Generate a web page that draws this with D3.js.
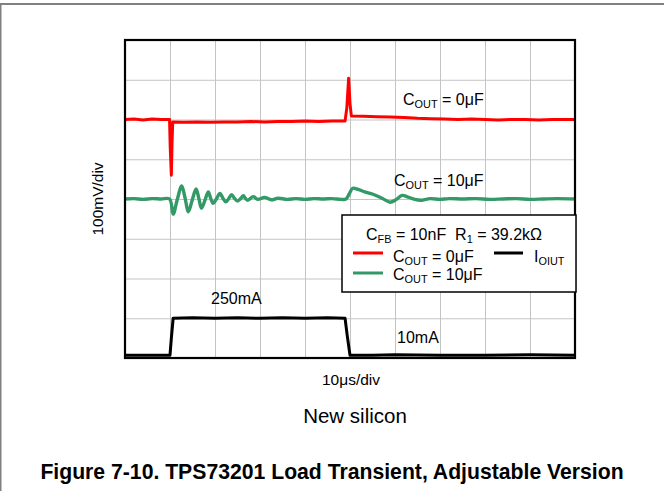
<!DOCTYPE html>
<html>
<head>
<meta charset="utf-8">
<script src="https://cdn.jsdelivr.net/npm/d3@7"></script>
<style>
  html, body { margin: 0; padding: 0; background: #fff; }
  svg { display: block; }
  text { font-family: "Liberation Sans", Arial, Helvetica, sans-serif; fill: #000; }
</style>
</head>
<body>
<svg id="chart" width="664" height="491"></svg>
<script>
// ---------------- DATA (time in µs, screen value in mV, 100 mV/div) ----------------
const xGridValues = [0, 10, 20, 30, 40, 50, 60, 70, 80, 90, 100];
const yGridValues = [0, 100, 200, 300, 400, 500, 600, 700, 800];

// V_OUT, C_OUT = 0 µF (red)
const redTrace = [
  [0, 600], [2, 601], [4, 599], [6, 601], [8, 600], [9.9, 600],
  [10.05, 530], [10.3, 460], [10.45, 540], [10.6, 594],
  [13, 593], [16, 594], [19, 593], [22, 594], [25, 594], [28, 595], [31, 594],
  [34, 595], [37, 595], [40, 596], [43, 595], [46, 596], [48.9, 596],
  [49.3, 630], [49.7, 704], [50.0, 640], [50.3, 609],
  [53, 608], [56, 607], [59, 606], [62, 605], [65, 603], [68, 602], [71, 601],
  [74, 600], [77, 601], [80, 600], [83, 599], [86, 600], [89, 600], [92, 599],
  [95, 600], [98, 600], [100, 600]
];

// V_OUT, C_OUT = 10 µF (green)
const greenTrace = [
  [0, 400], [2, 401], [4, 399], [6, 401], [8, 400], [9.9, 400],
  [10.7, 362], [11.6, 398], [12.6, 433], [13.3, 405], [14.1, 368], [14.9, 396],
  [15.8, 425], [16.4, 402], [17.0, 377], [17.8, 398], [18.5, 418], [19.0, 403],
  [19.6, 389], [20.3, 400], [21.1, 414], [21.8, 401], [22.4, 393], [23.0, 400],
  [23.7, 411], [24.3, 402], [25.0, 395], [25.7, 401], [26.3, 408], [26.8, 401],
  [27.3, 397], [28.5, 406], [29.5, 399], [31, 404], [32.5, 398], [34, 402],
  [36, 399], [38, 401], [40, 399], [42, 401], [44, 400], [46, 401], [48, 399],
  [49.1, 400], [49.8, 412], [50.6, 427], [51.8, 424], [53.3, 418], [55.1, 412],
  [57.1, 402], [58.9, 392], [60.2, 398], [61.6, 409], [62.9, 405], [64.4, 399],
  [66, 397], [67.8, 401], [70, 399], [72, 401], [75, 400], [78, 401], [81, 399],
  [84, 400], [87, 401], [90, 399], [93, 400], [96, 401], [100, 400]
];

// I_OUT (black)
const blackTrace = [
  [0, 7], [5, 7], [10.0, 7], [10.3, 50], [10.7, 100], [15, 101], [20, 100],
  [25, 101], [30, 100], [35, 101], [40, 100], [45, 101], [48.9, 100],
  [49.4, 55], [50.0, 7], [55, 7], [60, 8], [70, 7], [80, 7], [90, 8], [100, 7]
];

const traceColors = { red: "#ff0000", green: "#339966", black: "#000000" };

const titleText = "Figure 7-10. TPS73201 Load Transient, Adjustable Version";
const subtitleText = "New silicon";
const xLabelText = "10\u03BCs/div";
const yLabelText = "100mV/div";
const label250 = "250mA";
const label10 = "10mA";

// ---------------- DRAWING ----------------
const svg = d3.select("#chart");
const plot = { left: 125, right: 575, top: 40, bottom: 358 };

const x = d3.scaleLinear().domain([0, 100]).range([plot.left, plot.right]);
const y = d3.scaleLinear().domain([0, 800]).range([plot.bottom, plot.top]);

// outer page frame
svg.append("rect").attr("x", 0).attr("y", 3).attr("width", 664).attr("height", 2).attr("fill", "#808080");
svg.append("rect").attr("x", 0).attr("y", 3).attr("width", 1.5).attr("height", 488).attr("fill", "#808080");

// gridlines through axes
const gx = svg.append("g")
  .attr("transform", `translate(0,${plot.bottom})`)
  .call(d3.axisBottom(x).tickValues(xGridValues).tickSize(-(plot.bottom - plot.top)).tickFormat(""));
const gy = svg.append("g")
  .attr("transform", `translate(${plot.left},0)`)
  .call(d3.axisLeft(y).tickValues(yGridValues).tickSize(-(plot.right - plot.left)).tickFormat(""));
[gx, gy].forEach(g => {
  g.select(".domain").remove();
  g.selectAll(".tick line").attr("stroke", "#c4c4c4").attr("stroke-width", 1);
});

// traces
const lineSharp = d3.line().x(d => x(d[0])).y(d => y(d[1]));
const lineSmooth = d3.line().x(d => x(d[0])).y(d => y(d[1])).curve(d3.curveCatmullRom.alpha(0.5));
const traces = [
  { data: greenTrace, color: traceColors.green, w: 3.4, gen: lineSmooth },
  { data: redTrace, color: traceColors.red, w: 3, gen: lineSharp },
  { data: blackTrace, color: traceColors.black, w: 3, gen: lineSharp }
];
svg.append("g").selectAll("path").data(traces).join("path")
  .attr("d", d => d.gen(d.data))
  .attr("fill", "none")
  .attr("stroke", d => d.color)
  .attr("stroke-width", d => d.w)
  .attr("stroke-linejoin", "round");

// plot border
svg.append("rect")
  .attr("x", plot.left).attr("y", plot.top)
  .attr("width", plot.right - plot.left).attr("height", plot.bottom - plot.top)
  .attr("fill", "none").attr("stroke", "#000").attr("stroke-width", 2.2);

// helper: text with subscript
function subText(g, px, py, parts, size) {
  const t = g.append("text").attr("x", px).attr("y", py).attr("font-size", size)
    .attr("xml:space", "preserve").style("white-space", "pre");
  parts.forEach(p => {
    if (p.sub) {
      t.append("tspan").attr("font-size", size * 0.68).attr("dy", 3).text(p.t);
    } else {
      t.append("tspan").attr("dy", p.after ? -3 : 0).text(p.t);
    }
  });
  return t;
}

const fs = 16;
// in-plot annotations
subText(svg, 403, 105, [{ t: "C" }, { t: "OUT", sub: true }, { t: " = 0\u03BCF", after: true }], fs);
subText(svg, 394, 186, [{ t: "C" }, { t: "OUT", sub: true }, { t: " = 10\u03BCF", after: true }], fs);
svg.append("text").attr("x", 211).attr("y", 304).attr("font-size", fs).text(label250);
svg.append("text").attr("x", 397).attr("y", 343).attr("font-size", fs).text(label10);

// legend
const lg = svg.append("g");
lg.append("rect").attr("x", 342).attr("y", 215).attr("width", 234).attr("height", 77)
  .attr("fill", "#fff").attr("stroke", "#000").attr("stroke-width", 1.5);
subText(lg, 366, 240, [{ t: "C" }, { t: "FB", sub: true }, { t: " = 10nF\u00A0\u00A0R", after: true }, { t: "1", sub: true }, { t: " = 39.2k\u03A9", after: true }], fs);
lg.append("line").attr("x1", 353).attr("x2", 383).attr("y1", 253).attr("y2", 253).attr("stroke", traceColors.red).attr("stroke-width", 3);
subText(lg, 393, 262, [{ t: "C" }, { t: "OUT", sub: true }, { t: " = 0\u03BCF", after: true }], fs);
lg.append("line").attr("x1", 494).attr("x2", 523).attr("y1", 253).attr("y2", 253).attr("stroke", traceColors.black).attr("stroke-width", 3);
subText(lg, 534, 262, [{ t: "I" }, { t: "OIUT", sub: true }], fs);
lg.append("line").attr("x1", 353).attr("x2", 383).attr("y1", 273).attr("y2", 273).attr("stroke", traceColors.green).attr("stroke-width", 3);
subText(lg, 393, 280, [{ t: "C" }, { t: "OUT", sub: true }, { t: " = 10\u03BCF", after: true }], fs);

// axis labels
svg.append("text").attr("transform", "translate(103,199) rotate(-90)")
  .attr("text-anchor", "middle").attr("font-size", 15.5).text(yLabelText);
svg.append("text").attr("x", 351).attr("y", 385).attr("text-anchor", "middle").attr("font-size", 15.5).text(xLabelText);
svg.append("text").attr("x", 355).attr("y", 423).attr("text-anchor", "middle").attr("font-size", 20.5).text(subtitleText);
svg.append("text").attr("x", 332).attr("y", 479).attr("text-anchor", "middle")
  .attr("font-size", 21.2).attr("font-weight", "bold").text(titleText);
</script>
</body>
</html>
